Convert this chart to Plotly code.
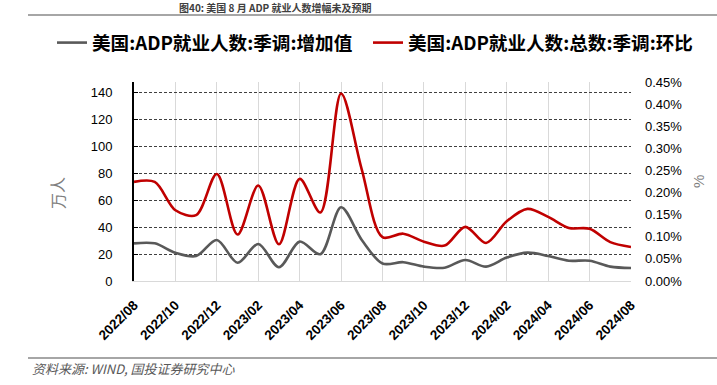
import plotly.graph_objects as go

months = ["2022/08","2022/09","2022/10","2022/11","2022/12","2023/01","2023/02","2023/03",
          "2023/04","2023/05","2023/06","2023/07","2023/08","2023/09","2023/10","2023/11",
          "2023/12","2024/01","2024/02","2024/03","2024/04","2024/05","2024/06","2024/07","2024/08"]
adp_change = [28.0, 28.0, 21.0, 18.6, 30.5, 13.6, 27.5, 10.2, 29.3, 19.9, 54.9, 30.5, 13.0,
              14.0, 10.7, 9.9, 15.6, 10.7, 17.4, 21.1, 18.6, 15.1, 15.1, 10.7, 9.7]
adp_mom = [0.224, 0.224, 0.160, 0.149, 0.242, 0.105, 0.216, 0.083, 0.231, 0.155, 0.424, 0.252,
           0.099, 0.107, 0.089, 0.080, 0.1225, 0.086, 0.135, 0.163, 0.145, 0.120, 0.118, 0.088, 0.077]
name_change = "美国:ADP就业人数:季调:增加值"
name_mom = "美国:ADP就业人数:总数:季调:环比"
left_ticks = [0, 20, 40, 60, 80, 100, 120, 140]
right_ticks = [0, 0.05, 0.10, 0.15, 0.20, 0.25, 0.30, 0.35, 0.40, 0.45]

xi = list(range(len(months)))
tick_idx = xi[::2]

fig = go.Figure()
fig.add_trace(go.Scatter(x=xi, y=adp_change, name=name_change, mode="lines", legend="legend",
                         line=dict(color="#595959", width=2.6, shape="spline", smoothing=0.9)))
fig.add_trace(go.Scatter(x=xi, y=adp_mom, name=name_mom, mode="lines", yaxis="y2", legend="legend2",
                         line=dict(color="#C00000", width=2.6, shape="spline", smoothing=0.9)))

W, H = 717, 385
L, R, T, B = 134, 631, 82, 281
pw, ph = R - L, B - T
def px(x): return (x - L) / pw
def py(y): return (B - y) / ph
def cx(x): return x / W
def cy(y): return 1 - y / H

tickfont = dict(family="Liberation Sans, Arial", size=13, color="#000000")
legfont = dict(family="Noto Sans CJK SC", size=18.6, color="#000000", weight="bold")
fig.update_layout(
    width=W, height=H,
    margin=dict(l=L, r=W - R, t=T, b=H - B, pad=0, autoexpand=False),
    paper_bgcolor="white", plot_bgcolor="white",
    showlegend=True,
    legend=dict(orientation="h", xref="container", yref="container",
                x=cx(52), xanchor="left", y=cy(43), yanchor="middle",
                font=legfont, itemwidth=30, bgcolor="rgba(0,0,0,0)", borderwidth=0),
    legend2=dict(orientation="h", xref="container", yref="container",
                 x=cx(368), xanchor="left", y=cy(43), yanchor="middle",
                 font=legfont, itemwidth=30, bgcolor="rgba(0,0,0,0)", borderwidth=0),
    xaxis=dict(range=[0, 24], tickmode="array", tickvals=tick_idx,
               ticktext=[months[i] for i in tick_idx], tickangle=-45,
               tickfont=dict(family="Liberation Sans, Arial", size=13.5, color="#000000", weight="bold"),
               showgrid=True, gridcolor="#d9d9d9", gridwidth=1,
               showline=True, linecolor="#d9d9d9", linewidth=1,
               ticks="", zeroline=False, ticklabelstandoff=10),
    yaxis=dict(range=[0, 148], tickmode="array", tickvals=left_ticks,
               tickfont=tickfont, showgrid=True, gridcolor="#404040", gridwidth=1,
               griddash="3px,2px", showline=True, linecolor="#000000", linewidth=2,
               ticks="inside", ticklen=4, tickcolor="#000000", zeroline=False,
               ticklabelstandoff=17),
    yaxis2=dict(range=[0, 0.45], overlaying="y", side="right", tickmode="array",
                tickvals=right_ticks, ticktext=[f"{v:.2f}%" for v in right_ticks],
                tickfont=tickfont, showgrid=False, showline=False, zeroline=False,
                ticks="", ticklabelstandoff=13),
)

fig.add_annotation(text="万人", xref="paper", yref="paper", x=px(57), y=py(193),
                   xanchor="center", yanchor="middle", showarrow=False, textangle=-90,
                   font=dict(family="Noto Sans CJK SC", size=16, color="#7f7f7f"))
fig.add_annotation(text="%", xref="paper", yref="paper", x=px(698), y=py(182),
                   xanchor="center", yanchor="middle", showarrow=False, textangle=-90,
                   font=dict(family="Liberation Sans, Arial", size=15, color="#7f7f7f"))
fig.add_annotation(text="图40: 美国 8 月 ADP 就业人数增幅未及预期", xref="paper", yref="paper",
                   x=px(275), y=py(7.5), xanchor="center", yanchor="middle", showarrow=False,
                   borderpad=0,
                   font=dict(family="Noto Sans CJK SC", size=10, color="#404040", weight="bold"))
fig.add_annotation(text="资料来源: WIND, 国投证券研究中心", xref="paper", yref="paper",
                   x=px(30), y=py(368), xanchor="left", yanchor="middle", showarrow=False,
                   font=dict(family="Noto Sans CJK SC", size=13, color="#595959", style="italic"))
fig.add_shape(type="line", xref="paper", yref="paper", x0=px(28), x1=px(717), y0=py(15), y1=py(15),
              line=dict(color="#a6a6a6", width=2))
fig.add_shape(type="line", xref="paper", yref="paper", x0=px(28), x1=px(717), y0=py(358), y1=py(358),
              line=dict(color="#a6a6a6", width=2))

fig.write_html("out.html", config={"displayModeBar": False},
               post_script="document.body.style.margin='0';document.body.style.padding='0';")
